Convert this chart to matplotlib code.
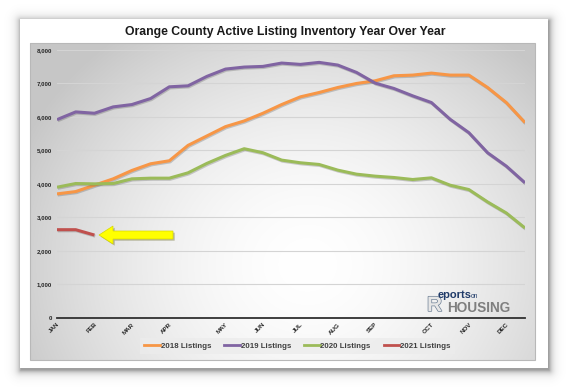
import numpy as np
import matplotlib
matplotlib.use("Agg")
import matplotlib.pyplot as plt
from matplotlib.patches import Rectangle, FancyArrow
from matplotlib.lines import Line2D
import matplotlib.patheffects as pe

plt.rcParams['font.family'] = ['Liberation Sans', 'DejaVu Sans']

# ---------------- data ----------------
x_labels = ['JAN', '', 'FEB', '', 'MAR', '', 'APR', '', '', 'MAY', '', 'JUN', '',
            'JUL', '', 'AUG', '', 'SEP', '', '', 'OCT', '', 'NOV', '', 'DEC', '']
listings_2018 = [3700, 3770, 3960, 4150, 4400, 4600, 4690, 5150, 5430, 5710, 5880, 6110, 6370,
                 6600, 6730, 6880, 7000, 7080, 7230, 7250, 7310, 7250, 7250, 6880, 6430, 5830]
listings_2019 = [5920, 6150, 6110, 6300, 6370, 6550, 6900, 6930, 7210, 7430, 7490, 7510, 7610,
                 7570, 7630, 7550, 7330, 7010, 6850, 6630, 6430, 5930, 5530, 4930, 4530, 4030]
listings_2020 = [3900, 4010, 4000, 4010, 4150, 4170, 4170, 4330, 4610, 4850, 5050, 4930, 4710,
                 4630, 4580, 4410, 4290, 4230, 4190, 4130, 4180, 3960, 3830, 3460, 3130, 2680]
listings_2021 = [2630, 2630, 2470]
series_names = ['2018 Listings', '2019 Listings', '2020 Listings', '2021 Listings']
series_colors = ['#F79646', '#8064A2', '#9BBB59', '#C0504D']
y_ticks = [0, 1000, 2000, 3000, 4000, 5000, 6000, 7000, 8000]

W, H = 568, 388
fig = plt.figure(figsize=(W / 100, H / 100), dpi=100)
fig.patch.set_facecolor('white')

# ---------------- background (pixel coordinates) ----------------
bg = fig.add_axes([0, 0, 1, 1])
bg.set_xlim(0, W)
bg.set_ylim(H, 0)
bg.axis('off')

# card shadow
cx0, cy0, cx1, cy1 = 20, 19, 548, 368
yy, xx = np.mgrid[0:H, 0:W] + 0.5
dx = np.maximum(np.maximum(cx0 + 1 - xx, 0), xx - (cx1 + 1))
dy = np.maximum(np.maximum(cy0 + 2 - yy, 0), yy - (cy1 + 2))
d = np.sqrt(dx ** 2 + dy ** 2)
alpha = 0.5 * np.exp(-d / 3.5)
shadow = np.zeros((H, W, 4))
shadow[..., :3] = 0.25
shadow[..., 3] = alpha
bg.imshow(shadow, extent=(0, W, H, 0), zorder=0, interpolation='bilinear')
bg.add_patch(Rectangle((cx0, cy0), cx1 - cx0, cy1 - cy0, facecolor='white',
                       edgecolor='none', zorder=1))

# chart area gradient
bx0, by0, bx1, by1 = 30, 43, 535, 360
bh, bw = by1 - by0, bx1 - bx0
gy, gx = np.mgrid[0:bh, 0:bw] + 0.5
ux = (gx - bw * 0.55) / (bw * 0.62)
uy = (gy - bh * 0.70) / (bh * 0.90)
r = np.sqrt(ux ** 2 + uy ** 2)
val = np.clip(1.0 - 0.22 * r ** 1.7, 0.78, 1.0)
grad = np.dstack([val, val, val])
bg.imshow(grad, extent=(bx0, bx1, by1, by0), zorder=2, interpolation='bilinear')
bg.add_patch(Rectangle((bx0, by0), bw, bh, facecolor='none', edgecolor='#b8b8b8',
                       linewidth=0.8, zorder=3))

# title
bg.text(285, 32, 'Orange County Active Listing Inventory Year Over Year',
        ha='center', va='center', fontsize=8.8, fontweight='bold', color='#1a1a1a', zorder=5)

# yellow arrow
arr = FancyArrow(173, 235, -60, 0, width=8, head_width=18, head_length=14,
                 length_includes_head=False, facecolor='#FFFF00', edgecolor='#d8d800',
                 linewidth=0.5, zorder=6,
                 path_effects=[pe.SimplePatchShadow(offset=(1.2, -1.2), alpha=0.35),
                               pe.Normal()])
bg.add_patch(arr)

# logo
bg.text(427, 311, 'R', fontsize=15, fontweight='bold', color='#e6e6e6', zorder=6,
        ha='left', va='baseline',
        path_effects=[pe.withStroke(linewidth=1.0, foreground='#6d7f95')])
bg.text(438, 298, 'eports', fontsize=8.0, fontweight='bold', color='#1f3a68',
        ha='left', va='baseline', zorder=7)
bg.text(471, 297.5, 'on', fontsize=4.8, color='#1f3a68', ha='left', va='baseline', zorder=7)
bg.text(447, 312, 'HOUSING', fontsize=9.8, fontweight='bold', color='#7f7f7f',
        ha='left', va='baseline', zorder=7)

# ---------------- main axes ----------------
px_left, px_right, px_top, px_bottom = 57, 525, 50, 317.7
ax = fig.add_axes([px_left / W, 1 - px_bottom / H, (px_right - px_left) / W,
                   (px_bottom - px_top) / H])
ax.set_facecolor('none')
n = len(x_labels)
xs = np.arange(n)
ax.set_xlim(0, n - 1)
ax.set_ylim(0, 8000)

all_series = [listings_2018, listings_2019, listings_2020, listings_2021]
handles = []
for vals, name, col in zip(all_series, series_names, series_colors):
    ax.plot(xs[:len(vals)], vals, color=col, linewidth=2.2, solid_capstyle='butt',
            solid_joinstyle='round', zorder=4,
            path_effects=[pe.SimpleLineShadow(offset=(0.6, -0.8), alpha=0.25, shadow_color='#404040'),
                          pe.Normal()])
    handles.append(Line2D([0], [0], color=col, linewidth=2.0))

ax.set_yticks(y_ticks)
ax.set_yticklabels([f'{v:,}' for v in y_ticks], fontsize=4.4, fontweight='bold', color='#262626')
ax.yaxis.grid(True, color='#d4d4d4', linewidth=0.8)
ax.set_axisbelow(True)
ax.tick_params(axis='y', length=0, pad=3.5)

label_pos = [i for i, l in enumerate(x_labels) if l]
ax.set_xticks(label_pos)
ax.set_xticklabels([x_labels[i] for i in label_pos], rotation=45, ha='right',
                   rotation_mode='anchor', fontsize=4.5, fontweight='bold', color='#262626')
ax.tick_params(axis='x', length=0, pad=3)

for s in ['top', 'right', 'left']:
    ax.spines[s].set_visible(False)
ax.spines['bottom'].set_color('#303030')
ax.spines['bottom'].set_linewidth(1.3)

leg = fig.legend(handles, series_names, loc='center', bbox_to_anchor=(297.5 / W, 1 - 346 / H),
                 ncol=4, fontsize=5.7, frameon=True, handlelength=2.0, handletextpad=0.1,
                 columnspacing=1.6, borderpad=0.5, fancybox=False)
leg.get_frame().set_facecolor('#ececec')
leg.get_frame().set_edgecolor('none')
for t in leg.get_texts():
    t.set_fontweight('bold')
    t.set_color('#404040')

fig.savefig('out.png', dpi=100)
